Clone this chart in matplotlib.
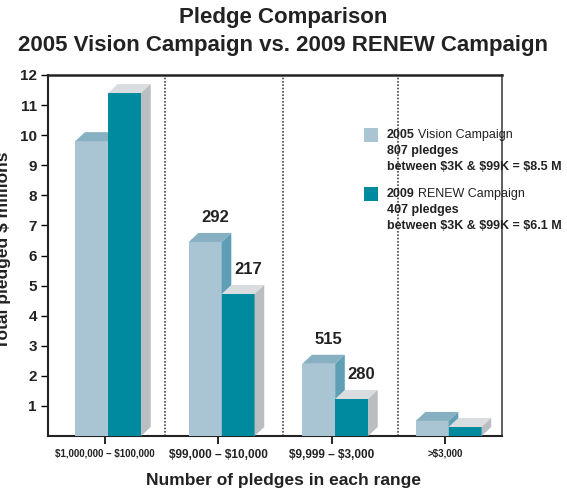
import matplotlib
matplotlib.use("Agg")
import matplotlib.pyplot as plt
from matplotlib.patches import Polygon
import numpy as np

plt.rcParams['font.family'] = ['Liberation Sans', 'DejaVu Sans']
plt.rcParams['text.parse_math'] = False

categories = ["$1,000,000 – $100,000", "$99,000 – $10,000", "$9,999 – $3,000", ">$3,000"]
vision_2005 = [9.8, 6.45, 2.4, 0.5]
renew_2009 = [11.4, 4.72, 1.23, 0.3]
vision_counts = [None, "292", "515", None]
renew_counts = [None, "217", "280", None]
yticks = list(range(1, 13))

light_front = "#a9c5d3"
light_top = "#88b0c3"
light_side = "#5f9fb6"
teal_front = "#008a9f"
teal_top = "#d9dde0"
teal_side = "#babec1"

fig = plt.figure(figsize=(5.67, 4.92), dpi=100)
ax = fig.add_axes([48/567, 1-436/492, (502-48)/567, (436-75)/492])
ax.set_xlim(-0.5, 3.5)
ax.set_ylim(0, 12)

x = np.arange(len(categories))
w = 0.29
off_l = -0.115
off_t = off_l + w
dx = 0.085
dy = 0.3

def bar3d(xc, h, front, top, side):
    left = xc - w/2
    right = xc + w/2
    ax.bar(xc, h, width=w, color=front, linewidth=0, zorder=3)
    ax.add_patch(Polygon([(left, h), (right, h), (right+dx, h+dy), (left+dx, h+dy)],
                         closed=True, facecolor=top, edgecolor='none', zorder=3, clip_on=False))
    ax.add_patch(Polygon([(right, 0), (right+dx, dy), (right+dx, h+dy), (right, h)],
                         closed=True, facecolor=side, edgecolor='none', zorder=3, clip_on=False))

for i in range(len(categories)):
    bar3d(x[i] + off_l, vision_2005[i], light_front, light_top, light_side)
    bar3d(x[i] + off_t, renew_2009[i], teal_front, teal_top, teal_side)
    if vision_counts[i]:
        ax.text(x[i] + off_l + dx, vision_2005[i] + dy + 0.25, vision_counts[i],
                ha='center', va='bottom', fontsize=12, fontweight='bold', color='#222222')
    if renew_counts[i]:
        ax.text(x[i] + off_t + dx, renew_2009[i] + dy + 0.25, renew_counts[i],
                ha='center', va='bottom', fontsize=12, fontweight='bold', color='#222222')

# separators
for sx in [0.53, 1.57, 2.58]:
    ax.axvline(sx, color='#444444', linestyle=(0, (1, 1)), linewidth=1.2, zorder=1)

ax.spines['right'].set_linestyle((0, (1, 1)))
ax.spines['right'].set_color('#444444')
ax.spines['right'].set_linewidth(1.2)
ax.spines['top'].set_linewidth(1.8)
ax.spines['top'].set_color('#222222')
ax.spines['left'].set_linewidth(1.5)
ax.spines['bottom'].set_linewidth(1.5)
ax.spines['left'].set_color('#222222')
ax.spines['bottom'].set_color('#222222')

ax.set_yticks(yticks)
ax.set_yticklabels([str(t) for t in yticks], fontsize=11, fontweight='bold', color='#222222')
ax.tick_params(axis='y', direction='out', length=5, width=1, pad=3)
ax.set_xticks(x)
ax.set_xticklabels(categories, fontweight='bold', color='#222222')
for i, lab in enumerate(ax.get_xticklabels()):
    lab.set_fontsize(7 if i in (0, 3) else 8.5)
ax.tick_params(axis='x', direction='out', length=6, width=1.2, pad=3)

fig.text(0.5, 1-480/492, "Number of pledges in each range", ha='center', va='center',
         fontsize=12.5, fontweight='bold', color='#222222')
fig.text(0.007, 0.492, "Total pledged $ millions", rotation=90, ha='center', va='center',
         fontsize=12.5, fontweight='bold', color='#222222')

fig.text(0.5, 0.965, "Pledge Comparison", ha='center', va='center', fontsize=16,
         fontweight='bold', color='#222222')
fig.text(0.5, 0.908, "2005 Vision Campaign vs. 2009 RENEW Campaign", ha='center',
         va='center', fontsize=16, fontweight='bold', color='#222222')

# legend
def legend_entry(ypix, color, year, name, count, total):
    fig.patches.append(plt.Rectangle((364/567, 1-(ypix+7)/492), 14/567, 14/492,
                                     transform=fig.transFigure, facecolor=color, edgecolor='none'))
    t = fig.text(387/567, 1-ypix/492, year, ha='left', va='center', fontsize=9,
                 fontweight='bold', color='#222222')
    fig.canvas.draw()
    bb = t.get_window_extent()
    fig.text((bb.x1 + 3)/567, 1-ypix/492, name, ha='left', va='center', fontsize=9,
             color='#222222')
    fig.text(387/567, 1-(ypix+16)/492, count, ha='left', va='center', fontsize=9,
             fontweight='bold', color='#222222')
    fig.text(387/567, 1-(ypix+32)/492, total, ha='left', va='center', fontsize=9,
             fontweight='bold', color='#222222')

legend_entry(135, light_front, "2005", "Vision Campaign", "807 pledges",
             "between $3K & $99K = $8.5 M")
legend_entry(194, teal_front, "2009", "RENEW Campaign", "407 pledges",
             "between $3K & $99K = $6.1 M")

fig.savefig("out.png", dpi=100)
